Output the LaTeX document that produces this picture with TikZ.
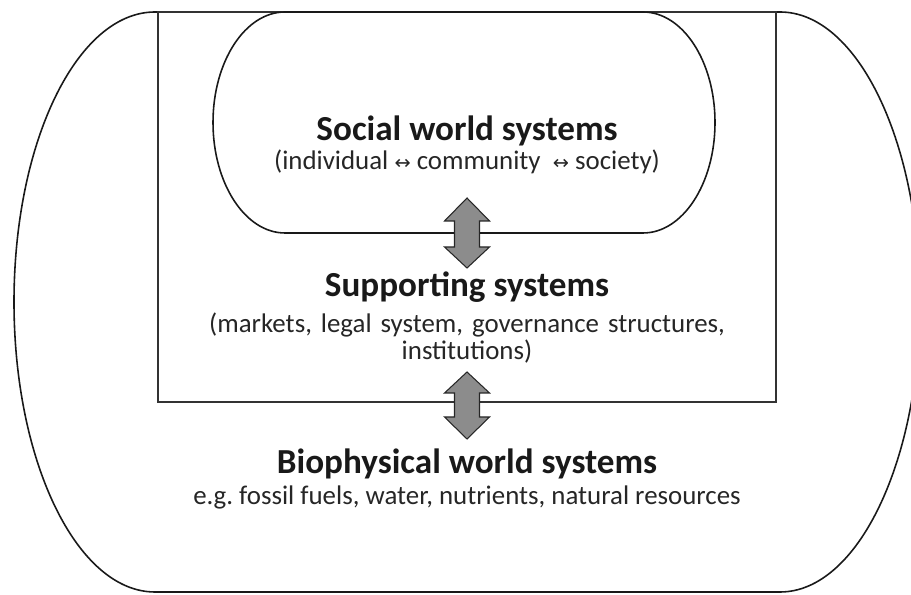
\documentclass[tikz,border=0pt]{standalone}
\usepackage{fontspec}
\setmainfont{Carlito}
\newfontfamily\symfont{DejaVu Sans}
\usetikzlibrary{calc}
\frenchspacing

\tikzset{
  frame/.style={line width=0.9pt, draw=black!90},
  blockarrow/.style={line width=0.6pt, draw=black!85, fill=black!45, line join=miter},
  title/.style={font=\fontsize{20}{22}\selectfont\bfseries, text=black!90, inner sep=1pt},
  detail/.style={font=\fontsize{15.3}{15.5}\selectfont, text=black!85, align=center, inner sep=1pt},
}

\newcommand{\swap}{{\symfont\fontsize{11}{12}\selectfont ↔}}

\begin{document}
\begin{tikzpicture}[x=0.02cm, y=0.02cm]
    \useasboundingbox (0,0) rectangle (911,594);

    % Outer boundary: biophysical world
    \draw[frame] (155,582) -- (780,582)
        arc[start angle=90, end angle=-90, x radius=140, y radius=290]
        -- (155,2)
        arc[start angle=270, end angle=90, x radius=141, y radius=290] -- cycle;

    % Box for the supporting systems
    \draw[frame, line width=1.1pt, draw=black!80] (158,582) rectangle (776,192);

    % Social world capsule
    \draw[frame] (285,582) -- (643,582)
        arc[start angle=90, end angle=-90, x radius=72, y radius=110.5]
        -- (285,361)
        arc[start angle=270, end angle=90, x radius=72, y radius=110.5] -- cycle;

    % Labels
    \node[title] (social) at (467,463) {Social world systems};
    \node[detail] (socialnote) at (467,432) {(individual \swap{} community \ \swap{} society)};

    \node[title] (support) at (467,307) {Supporting systems};
    \node[detail, text width=12cm] (supportnote) at (467,256)
        {(markets, legal system, governance structures,\\ institutions)};

    \node[title] (bio) at (467,130) {Biophysical world systems};
    \node[detail] (bionote) at (467,97) {e.g. fossil fuels, water, nutrients, natural resources};

    % Two-headed block arrows between the levels
    \coordinate (upA) at (467,396);
    \coordinate (upB) at (467,222);
    \draw[blockarrow] (upA) -- ++(22.5,-23) -- ++(-10,0) -- ++(0,-26) -- ++(10,0)
        -- ++(-22.5,-21) -- ++(-22.5,21) -- ++(10,0) -- ++(0,26) -- ++(-10,0) -- cycle;
    \draw[blockarrow] (upB) -- ++(22.5,-21) -- ++(-10,0) -- ++(0,-24) -- ++(10,0)
        -- ++(-22.5,-22) -- ++(-22.5,22) -- ++(10,0) -- ++(0,24) -- ++(-10,0) -- cycle;
\end{tikzpicture}
\end{document}
